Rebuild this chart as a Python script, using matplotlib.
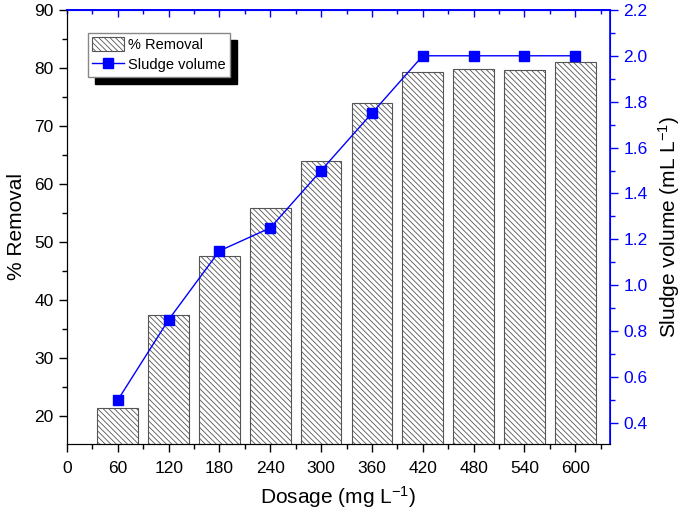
import matplotlib
matplotlib.use("Agg")
import matplotlib.pyplot as plt
from matplotlib.ticker import MultipleLocator

plt.rcParams['font.family'] = ['Liberation Sans', 'DejaVu Sans']
plt.rcParams['mathtext.fontset'] = 'custom'
plt.rcParams['mathtext.rm'] = 'Liberation Sans'
plt.rcParams['mathtext.default'] = 'regular'
plt.rcParams['hatch.linewidth'] = 0.6
plt.rcParams['hatch.color'] = '#444444'

dosage = [60, 120, 180, 240, 300, 360, 420, 480, 540, 600]
removal = [21.5, 37.4, 47.6, 55.8, 64.0, 74.0, 79.3, 79.8, 79.6, 81.0]
sludge = [0.50, 0.85, 1.15, 1.25, 1.50, 1.75, 2.00, 2.00, 2.00, 2.00]
x_ticks = [0, 60, 120, 180, 240, 300, 360, 420, 480, 540, 600]

fig = plt.figure(figsize=(6.85, 5.2), dpi=100)
ax = fig.add_axes([0.0978, 0.146, 0.7927, 0.835])

bars = ax.bar(dosage, removal, width=48, facecolor='white', edgecolor='#555555',
              linewidth=0.8, hatch='\\\\\\\\\\\\', label='% Removal', zorder=2)
ax.set_xlim(0, 641)
ax.set_ylim(15.2, 90)
ax.set_xticks(x_ticks)
ax.xaxis.set_minor_locator(MultipleLocator(30))
ax.yaxis.set_major_locator(MultipleLocator(10))
ax.yaxis.set_minor_locator(MultipleLocator(5))
ax.tick_params(axis='both', which='major', direction='out', length=6, width=1, labelsize=12.5)
ax.tick_params(axis='x', which='major', pad=6)
ax.tick_params(axis='both', which='minor', direction='out', length=3.5, width=1)
ax.set_xlabel('Dosage (mg L$^{-1}$)', fontsize=15, labelpad=6)
ax.set_ylabel('% Removal', fontsize=15, labelpad=6)
ax.spines['top'].set_color('blue')
ax.spines['right'].set_color('blue')

ax2 = ax.twinx()
line, = ax2.plot(dosage, sludge, color='#0000ff', linewidth=1.0, marker='s',
                 markersize=6.5, label='Sludge volume', zorder=3)
ax2.set_ylim(0.308, 2.2)
ax2.yaxis.set_major_locator(MultipleLocator(0.2))
ax2.yaxis.set_minor_locator(MultipleLocator(0.1))
ax2.yaxis.set_major_formatter(matplotlib.ticker.FormatStrFormatter('%.1f'))
ax2.tick_params(axis='y', which='major', direction='out', length=6, width=1,
                colors='#0000ff', labelsize=12.5)
ax2.tick_params(axis='y', which='minor', direction='out', length=3.5, width=1, colors='#0000ff')
ax2.set_ylabel('Sludge volume (mL L$^{-1}$)', fontsize=15, labelpad=6)
for s in ('right', 'top'):
    ax2.spines[s].set_color('#0000ff')
    ax2.spines[s].set_linewidth(1.2)
ax2.spines['left'].set_color('black')

top = ax.secondary_xaxis('top')
top.set_xticks(x_ticks[1:])
top.xaxis.set_minor_locator(MultipleLocator(30))
top.tick_params(axis='x', which='major', direction='in', length=5, width=1,
                colors='#0000ff', labeltop=False)
top.tick_params(axis='x', which='minor', direction='in', length=3, width=1, colors='#0000ff')
top.spines['top'].set_color('#0000ff')
top.spines['top'].set_linewidth(1.2)

leg = ax2.legend([bars, line], ['% Removal', 'Sludge volume'], loc='upper left',
                 bbox_to_anchor=(0.038, 0.947), fontsize=10.5, frameon=True, fancybox=False,
                 edgecolor='#888888', framealpha=1, borderaxespad=0, borderpad=0.3,
                 handlelength=2.2, handleheight=1.1, handletextpad=0.3, labelspacing=0.35,
                 shadow={'ox': 5, 'oy': -5, 'color': 'black', 'alpha': 1})

fig.savefig('out.png', dpi=100)
